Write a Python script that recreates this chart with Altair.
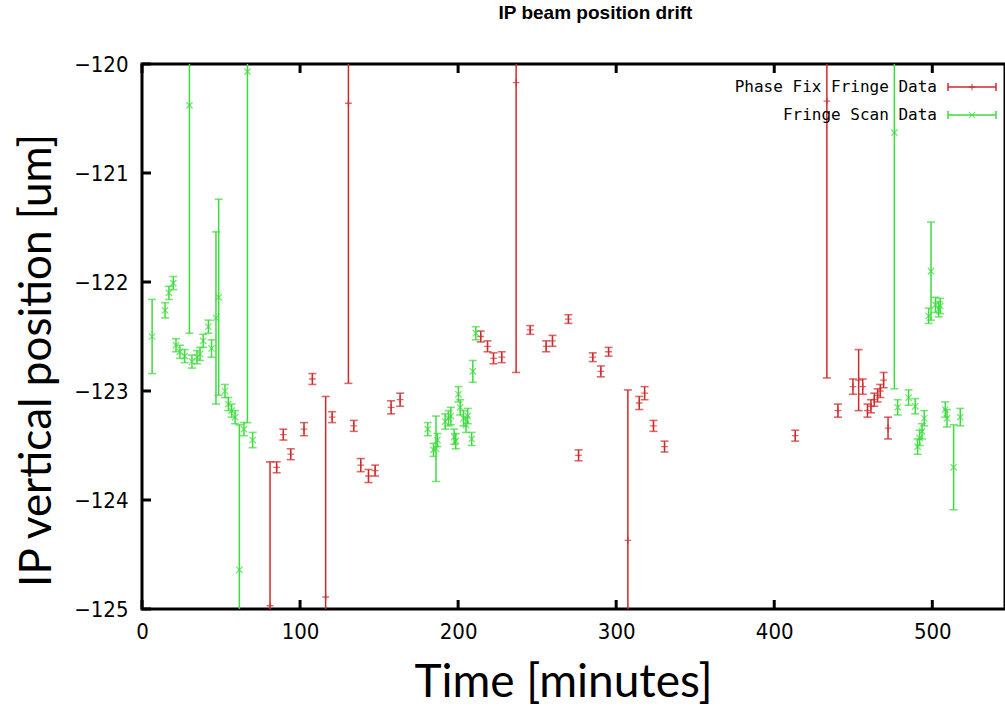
import altair as alt
import pandas as pd

# ---------------- data ----------------
series_names = ["Phase Fix Fringe Data", "Fringe Scan Data"]

red_t = [81.0, 85.2, 89.4, 94.1, 102.5, 107.8, 116.2, 120.3, 130.6, 134.0,
         138.4, 143.3, 147.5, 157.6, 163.3, 214.3, 218.6, 222.4, 227.6, 236.7,
         245.6, 255.7, 259.7, 269.8, 276.2, 285.2, 290.3, 295.2, 307.4, 314.6,
         318.0, 323.6, 330.6, 413.3, 433.3, 440.3, 449.8, 453.4, 456.0, 459.0,
         461.2, 463.3, 465.4, 467.1, 469.2, 472.0]
red_pos = [-124.97, -123.70, -123.40, -123.58, -123.35, -122.89, -124.89, -123.24, -120.36, -123.32,
           -123.68, -123.78, -123.73, -123.15, -123.08, -122.50, -122.59, -122.70, -122.69, -120.17,
           -122.44, -122.59, -122.54, -122.34, -123.59, -122.69, -122.82, -122.64, -124.37, -123.11,
           -123.02, -123.32, -123.51, -123.41, -120.34, -123.18, -122.96, -122.90, -122.96, -123.18,
           -123.14, -123.08, -123.04, -123.00, -122.90, -123.34]
red_err = [1.32, 0.05, 0.05, 0.05, 0.06, 0.05, 1.84, 0.05, 2.57, 0.05,
           0.06, 0.06, 0.05, 0.06, 0.06, 0.05, 0.05, 0.05, 0.05, 2.66,
           0.04, 0.05, 0.05, 0.04, 0.05, 0.04, 0.05, 0.04, 1.38, 0.06,
           0.06, 0.05, 0.05, 0.05, 2.54, 0.06, 0.07, 0.28, 0.07, 0.06,
           0.06, 0.06, 0.06, 0.06, 0.07, 0.10]

green_t = [6.4, 14.6, 17.0, 19.8, 21.5, 24.0, 27.0, 30.0, 31.6, 34.8,
           36.7, 38.7, 42.0, 44.0, 46.8, 48.5, 52.5, 54.6, 56.7, 58.9,
           61.6, 64.5, 66.7, 70.0,
           180.8, 184.4, 186.0, 186.9, 191.8, 193.9, 195.4, 197.5, 198.5, 200.2,
           201.3, 203.4, 205.0, 206.1, 208.6, 209.3, 211.2,
           476.0, 478.1, 485.0, 489.2, 490.7, 492.0, 493.5, 494.9, 497.7, 499.2,
           502.0, 504.0, 505.0, 508.2, 509.3, 513.5, 517.7]
green_pos = [-122.50, -122.26, -122.10, -122.01, -122.58, -122.64, -122.68, -120.38, -122.73, -122.69,
             -122.66, -122.54, -122.41, -122.61, -122.33, -122.14, -123.00, -123.12, -123.18, -123.24,
             -124.64, -123.35, -120.07, -123.45,
             -123.35, -123.54, -123.53, -123.45, -123.28, -123.25, -123.23, -123.42, -123.46, -123.03,
             -123.15, -123.25, -123.31, -123.23, -123.44, -122.82, -122.47,
             -120.63, -123.15, -123.06, -123.14, -123.51, -123.43, -123.37, -123.25, -122.31, -121.90,
             -122.21, -122.25, -122.22, -123.17, -123.25, -123.70, -123.24]
green_err = [0.34, 0.07, 0.06, 0.06, 0.06, 0.06, 0.06, 2.09, 0.06, 0.06,
             0.06, 0.06, 0.06, 0.08, 0.79, 0.90, 0.06, 0.06, 0.06, 0.06,
             1.33, 0.06, 3.22, 0.07,
             0.06, 0.06, 0.30, 0.06, 0.07, 0.07, 0.08, 0.07, 0.07, 0.07,
             0.07, 0.07, 0.07, 0.07, 0.06, 0.10, 0.06,
             2.35, 0.07, 0.07, 0.07, 0.07, 0.07, 0.07, 0.07, 0.07, 0.45,
             0.07, 0.07, 0.07, 0.07, 0.08, 0.39, 0.08]

x_ticks = [0, 100, 200, 300, 400, 500]
y_ticks = [-125, -124, -123, -122, -121, -120]

# ---------------- styling ----------------
RED = "#cf2a2a"
GREEN = "#3ddc3d"
W, H = 863, 545
TICK_FONT = "Liberation Sans Narrow, DejaVu Sans Condensed, Arial, sans-serif"
TITLE_FONT = "Lato, Open Sans, sans-serif"

xs = alt.Scale(domain=[0, 546], nice=False, zero=False)
ys = alt.Scale(domain=[-125, -120], nice=False, zero=False)

x_axis = alt.Axis(values=x_ticks, title="Time [minutes]", grid=False, ticks=False, domain=False,
                  labelFont=TICK_FONT, labelFontSize=22, labelColor="black", labelPadding=12,
                  titleFont=TITLE_FONT, titleFontSize=46, titleFontWeight="normal",
                  titleColor="black", titlePadding=18, titleX=421, labelFlush=False)
y_axis = alt.Axis(values=y_ticks, title="IP vertical position [um]", grid=False, ticks=False,
                  domain=False, labelFont=TICK_FONT, labelFontSize=22, labelColor="black",
                  labelPadding=14, titleFont=TITLE_FONT, titleFontSize=44,
                  titleFontWeight="normal", titleColor="black", titlePadding=14, titleY=296,
                  labelFlush=False)

PLUS = "M-1,0L1,0M0,-1L0,1"
CROSS = "M-1,-1L1,1M-1,1L1,-1"


def make_df(t, pos, err, name):
    return pd.DataFrame({
        "t": t,
        "pos": pos,
        "lo": [p - e for p, e in zip(pos, err)],
        "hi": [p + e for p, e in zip(pos, err)],
        "series": name,
    })


def series_layers(df, color, shape, msize):
    base = alt.Chart(df)
    X = alt.X("t:Q", scale=xs, axis=x_axis)
    bars = base.mark_rule(color=color, strokeWidth=1.5, clip=True).encode(
        x=X, y=alt.Y("lo:Q", scale=ys, axis=y_axis), y2="hi:Q")
    cap_lo = base.mark_tick(color=color, orient="horizontal", size=8, thickness=1.6, clip=True).encode(
        x=X, y=alt.Y("lo:Q", scale=ys, axis=y_axis))
    cap_hi = base.mark_tick(color=color, orient="horizontal", size=8, thickness=1.6, clip=True).encode(
        x=X, y=alt.Y("hi:Q", scale=ys, axis=y_axis))
    pts = base.mark_point(shape=shape, size=msize, color=color, filled=False, strokeWidth=1.3,
                          clip=True).encode(x=X, y=alt.Y("pos:Q", scale=ys, axis=y_axis))
    return [bars, cap_lo, cap_hi, pts]


red_df = make_df(red_t, red_pos, red_err, series_names[0])
green_df = make_df(green_t, green_pos, green_err, series_names[1])

# inward ticks (gnuplot style)
xt = pd.DataFrame({"v": x_ticks})
yt = pd.DataFrame({"v": y_ticks})
tick_x_bottom = alt.Chart(xt).mark_rule(color="black", strokeWidth=3).encode(
    x=alt.X("v:Q", scale=xs, axis=x_axis), y=alt.value(H), y2=alt.value(H - 9))
tick_x_top = alt.Chart(xt).mark_rule(color="black", strokeWidth=3).encode(
    x=alt.X("v:Q", scale=xs, axis=x_axis), y=alt.value(0), y2=alt.value(9))
tick_y_left = alt.Chart(yt).mark_rule(color="black", strokeWidth=3).encode(
    y=alt.Y("v:Q", scale=ys, axis=y_axis), x=alt.value(0), x2=alt.value(9))


# custom legend (top right, gnuplot style)
def legend_item(name, color, shape, ypx):
    d = pd.DataFrame({"label": [name]})
    b = alt.Chart(d)
    txt = b.mark_text(align="right", baseline="middle", font="DejaVu Sans Mono", fontSize=16,
                      color="black").encode(text="label:N", x=alt.value(795), y=alt.value(ypx))
    line = b.mark_rule(color=color, strokeWidth=1.5).encode(
        x=alt.value(806), x2=alt.value(854), y=alt.value(ypx))
    capl = b.mark_rule(color=color, strokeWidth=1.5).encode(
        x=alt.value(806), y=alt.value(ypx - 4), y2=alt.value(ypx + 4))
    capr = b.mark_rule(color=color, strokeWidth=1.5).encode(
        x=alt.value(854), y=alt.value(ypx - 4), y2=alt.value(ypx + 4))
    mk = b.mark_point(shape=shape, size=40, color=color, filled=False, strokeWidth=1.3).encode(
        x=alt.value(830), y=alt.value(ypx))
    return [txt, line, capl, capr, mk]


layers = (series_layers(red_df, RED, PLUS, 45) + series_layers(green_df, GREEN, CROSS, 40)
          + [tick_x_bottom, tick_x_top, tick_y_left]
          + legend_item(series_names[0], RED, PLUS, 23) + legend_item(series_names[1], GREEN, CROSS, 51))

chart = alt.layer(*layers).properties(
    width=W, height=H,
    title=alt.TitleParams("IP beam position drift", font="Liberation Sans, Arial, sans-serif",
                          fontSize=19, fontWeight="bold", color="black", offset=30, dx=22),
    autosize=alt.AutoSizeParams(type="none"),
    padding={"left": 142, "top": 64, "right": 0, "bottom": 101},
    background="white",
).configure_view(stroke="black", strokeWidth=3)

chart.save("out.html", embed_options={"renderer": "svg", "actions": False})
